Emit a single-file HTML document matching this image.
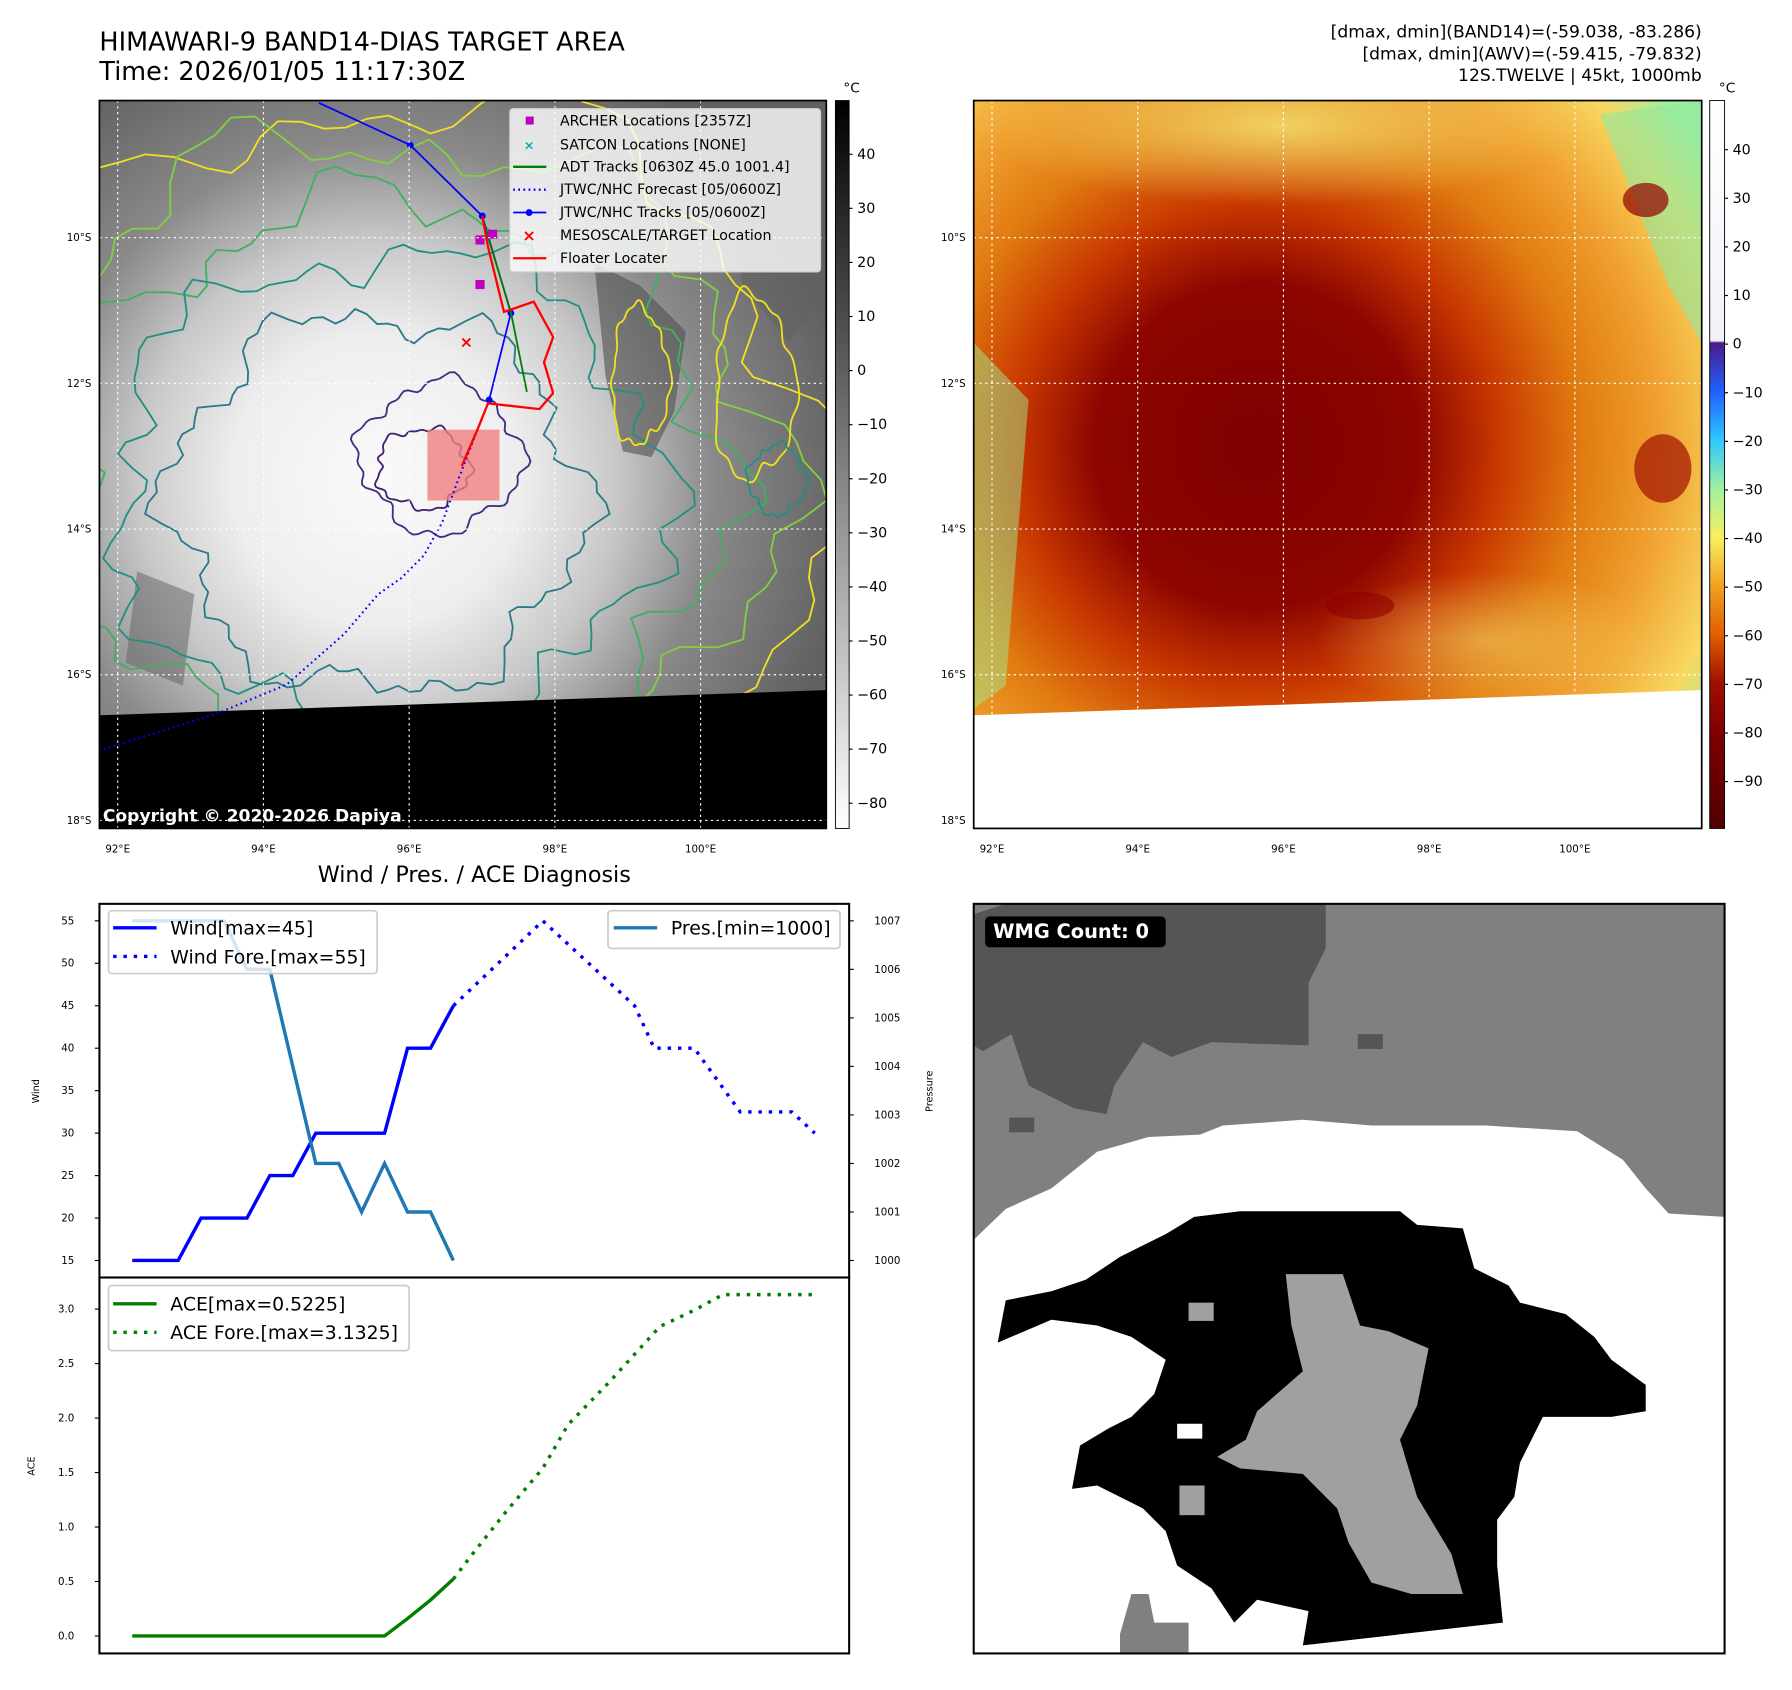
<!DOCTYPE html>
<html><head><meta charset="utf-8"><style>
html,body{margin:0;padding:0;background:#fff}
svg{display:block}
text{font-family:"DejaVu Sans","Liberation Sans",sans-serif}
</style></head><body>
<svg id="root" width="1792" height="1690" viewBox="0 0 1568 1479" preserveAspectRatio="none" xmlns="http://www.w3.org/2000/svg">
<defs>
<radialGradient id="g1" cx="330" cy="420" r="420" gradientUnits="userSpaceOnUse">
<stop offset="0" stop-color="#fafafa"/><stop offset="0.3" stop-color="#eeeeee"/><stop offset="0.5" stop-color="#c8c8c8"/><stop offset="0.7" stop-color="#8a8a8a"/><stop offset="1" stop-color="#606060"/>
</radialGradient>
<radialGradient id="g2" cx="1100" cy="390" r="470" gradientUnits="userSpaceOnUse">
<stop offset="0" stop-color="#800000"/><stop offset="0.3" stop-color="#8c0500"/><stop offset="0.45" stop-color="#c83800"/><stop offset="0.6" stop-color="#e07a10"/><stop offset="0.75" stop-color="#f0a030"/><stop offset="0.9" stop-color="#f8d860"/><stop offset="1" stop-color="#a0f0a0"/>
</radialGradient>
<radialGradient id="gy" cx="0.5" cy="0.5" r="0.5"><stop offset="0" stop-color="#f4e070" stop-opacity="0.85"/><stop offset="1" stop-color="#f4e070" stop-opacity="0"/></radialGradient>
<linearGradient id="cb1" x1="0" y1="0" x2="0" y2="1"><stop offset="0" stop-color="#000"/><stop offset="1" stop-color="#fff"/></linearGradient>
<linearGradient id="cb2" x1="0" y1="0" x2="0" y2="1">
<stop offset="0" stop-color="#ffffff"/><stop offset="0.33" stop-color="#f4f0f8"/><stop offset="0.333" stop-color="#4a1a8a"/>
<stop offset="0.4" stop-color="#2060ff"/><stop offset="0.467" stop-color="#30c8ff"/><stop offset="0.533" stop-color="#a0f0a0"/>
<stop offset="0.6" stop-color="#f8f060"/><stop offset="0.667" stop-color="#f0a020"/><stop offset="0.733" stop-color="#e06000"/>
<stop offset="0.8" stop-color="#a01000"/><stop offset="0.867" stop-color="#800000"/><stop offset="1" stop-color="#500000"/>
</linearGradient>
<clipPath id="c1"><rect x="87" y="88" width="636" height="637"/></clipPath>
<clipPath id="c2"><rect x="852" y="88" width="637" height="637"/></clipPath>
</defs>

<text x="87" y="44" font-size="22.3">HIMAWARI-9 BAND14-DIAS TARGET AREA</text>
<text x="87" y="70" font-size="22.3">Time: 2026/01/05 11:17:30Z</text>
<g font-size="15" text-anchor="end">
<text x="1489" y="33">[dmax, dmin](BAND14)=(-59.038, -83.286)</text>
<text x="1489" y="52">[dmax, dmin](AWV)=(-59.415, -79.832)</text>
<text x="1489" y="71">12S.TWELVE | 45kt, 1000mb</text>
</g>

<!-- MAP 1 -->
<g clip-path="url(#c1)">
<rect x="87" y="88" width="636" height="637" fill="url(#g1)"/>
<path d="M520,230 L560,250 L600,290 L590,360 L570,400 L545,395 L530,330 Z" fill="#505050" opacity="0.6"/>
<path d="M640,180 L700,200 L720,260 L690,300 L650,250 Z" fill="#606060" opacity="0.5"/>
<path d="M120,500 L170,520 L160,600 L110,580 Z" fill="#606060" opacity="0.5"/>
<g id="contours" fill="none" stroke-width="1.6"></g>
<path d="M87,626 L723,604 L723,725 L87,725 Z" fill="#000"/>
<rect x="374" y="376" width="63" height="62" fill="#f08080" opacity="0.8"/>
<polyline points="279,90 359,127 422,189 447,274 428,350" fill="none" stroke="#0000ff" stroke-width="1.5"/>
<g fill="#0000ff"><circle cx="359" cy="127" r="3"/><circle cx="422" cy="189" r="3"/><circle cx="447" cy="274" r="3"/><circle cx="428" cy="350" r="3"/></g>
<polyline points="428,350 417,378 402,417 387,457 371,486 351,506 331,520 301,555 251,599 191,624 131,643 87,657" fill="none" stroke="#0000ff" stroke-width="1.8" stroke-dasharray="1.5,3"/>
<polyline points="422,191 447,273 461,343" fill="none" stroke="#008000" stroke-width="1.6"/>
<polyline points="422,189 427,216 441,273 467,264 484,295 476,317 484,344 472,358 427,353 419,373 404,408" fill="none" stroke="#ff0000" stroke-width="2"/>
<g fill="#c000c0"><rect x="416" y="206" width="8" height="8"/><rect x="427" y="201" width="8" height="8"/><rect x="416" y="245" width="8" height="8"/></g>
<text x="408" y="304" font-size="14" fill="#ff0000" text-anchor="middle" font-weight="bold">×</text>
<g id="grid1" stroke="#fff" stroke-width="1" stroke-dasharray="2,3"></g>
<text x="90" y="719" font-size="15" font-weight="bold" fill="#fff">Copyright © 2020-2026 Dapiya</text>
</g>
<rect x="87" y="88" width="636" height="637" fill="none" stroke="#000" stroke-width="1.5"/>
<g font-size="12.4">
<rect x="446" y="95" width="272" height="143" rx="3" fill="#fff" fill-opacity="0.8" stroke="#ccc"/>
<rect x="460" y="102" width="7" height="7" fill="#c000c0"/><text x="490" y="110">ARCHER Locations [2357Z]</text>
<text x="463" y="131" fill="#00b0b0" font-size="11" text-anchor="middle" font-weight="bold">×</text><text x="490" y="131">SATCON Locations [NONE]</text>
<line x1="449" y1="146" x2="478" y2="146" stroke="#008000" stroke-width="2"/><text x="490" y="150">ADT Tracks [0630Z 45.0 1001.4]</text>
<line x1="449" y1="166" x2="478" y2="166" stroke="#0000ff" stroke-width="2" stroke-dasharray="1.5,3"/><text x="490" y="170">JTWC/NHC Forecast [05/0600Z]</text>
<line x1="449" y1="186" x2="478" y2="186" stroke="#0000ff" stroke-width="1.5"/><circle cx="463" cy="186" r="3" fill="#0000ff"/><text x="490" y="190">JTWC/NHC Tracks [05/0600Z]</text>
<text x="463" y="211" fill="#ff0000" font-size="14" text-anchor="middle" font-weight="bold">×</text><text x="490" y="210">MESOSCALE/TARGET Location</text>
<line x1="449" y1="226" x2="478" y2="226" stroke="#ff0000" stroke-width="2"/><text x="490" y="230">Floater Locater</text>
</g>
<rect x="731" y="88" width="12" height="637" fill="url(#cb1)" stroke="#000" stroke-width="0.8"/>
<text x="738" y="81" font-size="12">°C</text>
<g id="cbt1" font-size="12.5"></g>

<!-- MAP 2 -->
<g clip-path="url(#c2)">
<rect x="852" y="88" width="637" height="637" fill="url(#g2)"/>
<ellipse cx="1120" cy="110" rx="260" ry="70" fill="url(#gy)"/>
<ellipse cx="1300" cy="560" rx="150" ry="60" fill="url(#gy)" opacity="0.6"/>
<path d="M1400,100 L1489,88 L1489,300 L1460,250 Z" fill="#90e8a0" opacity="0.6"/>
<path d="M852,300 L900,350 L880,600 L852,620 Z" fill="#a0e890" opacity="0.5"/>
<ellipse cx="1440" cy="175" rx="20" ry="15" fill="#900000" opacity="0.7"/>
<ellipse cx="1455" cy="410" rx="25" ry="30" fill="#a01000" opacity="0.7"/>
<ellipse cx="1190" cy="530" rx="30" ry="12" fill="#900000" opacity="0.6"/>
<path d="M852,626 L1489,604 L1489,725 L852,725 Z" fill="#fff"/>
<g id="grid2" stroke="#fff" stroke-width="1" stroke-dasharray="2,3"></g>
</g>
<rect x="852" y="88" width="637" height="637" fill="none" stroke="#000" stroke-width="1.5"/>
<rect x="1496" y="88" width="13" height="637" fill="url(#cb2)" stroke="#000" stroke-width="0.8"/>
<text x="1504" y="81" font-size="12">°C</text>
<g id="cbt2" font-size="12.5"></g>
<g id="axlabels" font-size="9"></g>

<!-- CHART -->
<text x="415" y="772" font-size="19.5" text-anchor="middle">Wind / Pres. / ACE Diagnosis</text>
<g id="chart"></g>
<rect x="87" y="791" width="656" height="327" fill="none" stroke="#000" stroke-width="1.8"/>
<rect x="87" y="1118" width="656" height="329" fill="none" stroke="#000" stroke-width="1.8"/>
<text transform="translate(34,955) rotate(-90)" font-size="8.5" text-anchor="middle">Wind</text>
<text transform="translate(816,955) rotate(-90)" font-size="8.5" text-anchor="middle">Pressure</text>
<text transform="translate(30,1283) rotate(-90)" font-size="8.5" text-anchor="middle">ACE</text>
<g font-size="16.5">
<rect x="95" y="797" width="235" height="55" rx="3" fill="#fff" fill-opacity="0.8" stroke="#ccc" stroke-width="1.5"/>
<line x1="99" y1="812" x2="137" y2="812" stroke="#0000ff" stroke-width="3"/><text x="149" y="818">Wind[max=45]</text>
<line x1="99" y1="837" x2="137" y2="837" stroke="#0000ff" stroke-width="3" stroke-dasharray="3,6"/><text x="149" y="843">Wind Fore.[max=55]</text>
</g>
<g font-size="16.5">
<rect x="532" y="797" width="203" height="33" rx="3" fill="#fff" fill-opacity="0.8" stroke="#ccc" stroke-width="1.5"/>
<line x1="537" y1="812" x2="575" y2="812" stroke="#1f77b4" stroke-width="3"/><text x="587" y="818">Pres.[min=1000]</text>
</g>
<g font-size="16.5">
<rect x="95" y="1125" width="263" height="57" rx="3" fill="#fff" fill-opacity="0.8" stroke="#ccc" stroke-width="1.5"/>
<line x1="99" y1="1141" x2="137" y2="1141" stroke="#008000" stroke-width="3"/><text x="149" y="1147">ACE[max=0.5225]</text>
<line x1="99" y1="1166" x2="137" y2="1166" stroke="#008000" stroke-width="3" stroke-dasharray="3,6"/><text x="149" y="1172">ACE Fore.[max=3.1325]</text>
</g>

<!-- WMG -->
<g>
<rect x="852" y="791" width="657" height="656" fill="#808080"/>
<polygon points="852,800 880,791 1160,791 1160,830 1145,860 1145,915 1060,912 1025,925 1000,912 975,950 968,975 940,970 900,950 885,905 860,920 852,915" fill="#555555"/>
<rect x="1188" y="905" width="22" height="13" fill="#555555"/>
<rect x="883" y="978" width="22" height="13" fill="#555555"/>
<polygon points="852,1085 880,1058 920,1040 960,1008 1005,995 1050,993 1070,985 1140,980 1200,985 1300,985 1380,990 1420,1015 1440,1040 1460,1062 1509,1065 1509,1447 852,1447" fill="#ffffff"/>
<polygon points="1020,1080 1045,1065 1085,1060 1225,1060 1240,1072 1280,1075 1290,1110 1320,1125 1330,1140 1370,1150 1395,1170 1410,1190 1440,1212 1440,1235 1410,1240 1350,1240 1330,1280 1325,1310 1310,1330 1310,1370 1315,1420 1140,1440 1145,1410 1100,1400 1080,1420 1060,1390 1030,1370 1020,1340 1000,1320 960,1300 938,1303 945,1265 970,1250 990,1240 1010,1220 1020,1190 990,1170 960,1160 920,1155 873,1175 880,1138 920,1130 950,1120 980,1100" fill="#000000"/>
<polygon points="1125,1115 1175,1115 1190,1160 1215,1165 1250,1180 1240,1230 1225,1260 1240,1310 1270,1360 1280,1395 1235,1395 1200,1385 1180,1350 1170,1320 1140,1290 1085,1285 1065,1275 1090,1260 1100,1235 1140,1200 1130,1160" fill="#a0a0a0"/>
<rect x="1040" y="1140" width="22" height="16" fill="#a0a0a0"/>
<rect x="1032" y="1300" width="22" height="26" fill="#a0a0a0"/>
<rect x="1030" y="1246" width="22" height="13" fill="#ffffff"/>
<polygon points="990,1395 1005,1395 1010,1420 1040,1420 1040,1447 980,1447 980,1430" fill="#808080"/>
<rect x="862" y="802" width="158" height="27" rx="4" fill="#000"/>
<text x="869" y="821" font-size="17" font-weight="bold" fill="#fff">WMG Count: 0</text>
<rect x="852" y="791" width="657" height="656" fill="none" stroke="#000" stroke-width="1.8"/>
</g>
</svg>
<script>
// chart data
const windX = [0,1,2,3,4,5,6,7,8,9,10,11,12,13,14];
const windVals = [15,15,15,20,20,20,25,25,30,30,30,30,40,40,45];
const windForeX = [14,17.9,21.9,22.75,24.5,26.5,28.75,29.75];
const windForeVals = [45,55,45,40,40,32.5,32.5,30];
const presX = [0,1,2,3,4,5,6,7,8,9,10,11,12,13,14];
const presVals = [1007,1007,1007,1007,1007,1006,1006,1004,1002,1002,1001,1002,1001,1001,1000];
const aceX = [0,1,2,3,4,5,6,7,8,9,10,11,12,13,14];
const aceVals = [0,0,0,0,0,0,0,0,0,0,0,0,0.16,0.33,0.5225];
const aceForeX = [14,14.75,16.25,17.9,19,20.75,23,24.5,25.75,29.75];
const aceForeVals = [0.5225,0.73,1.13,1.54,1.94,2.32,2.84,2.99,3.1325,3.1325];
const windTicks = [15,20,25,30,35,40,45,50,55];
const presTicks = [1000,1001,1002,1003,1004,1005,1006,1007];
const aceTicks = [0.0,0.5,1.0,1.5,2.0,2.5,3.0];
const cb1Ticks = [40,30,20,10,0,-10,-20,-30,-40,-50,-60,-70,-80];
const cb2Ticks = [40,30,20,10,0,-10,-20,-30,-40,-50,-60,-70,-80,-90];
const lonTicks = [92,94,96,98,100];
const latTicks = [10,12,14,16,18];

const NS='http://www.w3.org/2000/svg';
function mk(tag, attrs, parent){const e=document.createElementNS(NS,tag);for(const k in attrs)e.setAttribute(k,attrs[k]);parent.appendChild(e);return e;}
const sx = v => 87 + (v + 1.43) / 32.68 * 656;
const syW = v => 1118 - (v - 13) / 44 * 327;
const syP = v => 1118 - (v - 999.65) / 7.7 * 327;
const syA = v => 1447 - (v + 0.16) / 3.45 * 329;
const chart = document.getElementById('chart');
function line(xs, ys, fx, fy, color, dash, name){
  const p = mk('polyline',{points: xs.map((x,i)=>fx(x).toFixed(1)+','+fy(ys[i]).toFixed(1)).join(' '), fill:'none', stroke:color, 'stroke-width':3, 'stroke-dasharray':dash||'none'}, chart);
  
  
}
line(windX, windVals, sx, syW, '#0000ff', null, 'wind-line');
line(windForeX, windForeVals, sx, syW, '#0000ff', '3,6', 'wind-forecast-line');
line(presX, presVals, sx, syP, '#1f77b4', null, 'pressure-line');
line(aceX, aceVals, sx, syA, '#008000', null, 'ace-line');
line(aceForeX, aceForeVals, sx, syA, '#008000', '3,6', 'ace-forecast-line');
function ticks(vals, fy, side, fmt){
  vals.forEach(v=>{
    const y=fy(v);
    if(side==='L'){mk('line',{x1:83,x2:87,y1:y,y2:y,stroke:'#000'},chart);
      const t=mk('text',{x:65,y:y+3,'font-size':9,'text-anchor':'end'},chart);t.textContent=fmt(v);
      
      }
    else {mk('line',{x1:743,x2:747,y1:y,y2:y,stroke:'#000'},chart);
      const t=mk('text',{x:765,y:y+3,'font-size':9},chart);t.textContent=fmt(v);
      
      }
  });
}
ticks(windTicks, syW, 'L', v=>String(v));
ticks(presTicks, syP, 'R', v=>String(v));
ticks(aceTicks, syA, 'L', v=>v.toFixed(1));

// colorbars
const cbt1=document.getElementById('cbt1'), cbt2=document.getElementById('cbt2');
cb1Ticks.forEach(v=>{const y=135+(40-v)*4.733; mk('line',{x1:743,x2:746,y1:y,y2:y,stroke:'#000'},cbt1);
  const t=mk('text',{x:750,y:y+4},cbt1); t.textContent=v<0?'\u2212'+(-v):String(v);});
cb2Ticks.forEach(v=>{const y=131+(40-v)*4.254; mk('line',{x1:1509,x2:1512,y1:y,y2:y,stroke:'#000'},cbt2);
  const t=mk('text',{x:1516,y:y+4},cbt2); t.textContent=v<0?'\u2212'+(-v):String(v);});

// grids & axis labels
const lonX = v => 103 + (v-92)*63.75, latY = v => 208 + (v-10)*63.75;
const g1=document.getElementById('grid1'), g2=document.getElementById('grid2'), al=document.getElementById('axlabels');
[[g1,0],[g2,765]].forEach(([g,off])=>{
  lonTicks.forEach(v=>mk('line',{x1:lonX(v)+off,x2:lonX(v)+off,y1:88,y2:725},g));
  latTicks.forEach(v=>mk('line',{x1:87+off,x2:723+off+(off?1:0),y1:latY(v),y2:latY(v)},g));
  lonTicks.forEach(v=>{const t=mk('text',{x:lonX(v)+off,y:746,'text-anchor':'middle'},al);t.textContent=v+'°E';});
  latTicks.forEach(v=>{const t=mk('text',{x:80+off,y:latY(v)+3,'text-anchor':'end'},al);t.textContent=v+'°S';});
});

// contours (decorative)
const cg=document.getElementById('contours');
function blob(cx,cy,rx,ry,color,a,b,c){
  let d='';
  for(let i=0;i<=120;i++){const t=i/120*Math.PI*2;
    const r=1+0.08*Math.sin(a*t+1)+0.05*Math.sin(b*t+2)+0.03*Math.sin(c*t);
    const x=cx+rx*r*Math.cos(t), y=cy+ry*r*Math.sin(t);
    d+=(i?'L':'M')+x.toFixed(1)+','+y.toFixed(1);}
  mk('path',{d:d+'Z',stroke:color},cg);
}
blob(340,420,380,330,'#f0e020',5,11,23);
blob(340,420,340,300,'#80d040',6,13,29);
blob(345,425,290,250,'#40b060',7,15,31);
blob(340,430,240,210,'#209080',5,17,27);
blob(330,440,180,165,'#2a7a8a',6,12,33);
blob(385,400,70,65,'#403080',4,9,21);
blob(370,410,40,35,'#402070',5,11,19);
blob(660,340,35,80,'#f0e020',3,7,13);
blob(560,330,25,60,'#f0e020',3,8,15);
blob(680,420,25,30,'#209080',4,9,17);
</script>
</body></html>
